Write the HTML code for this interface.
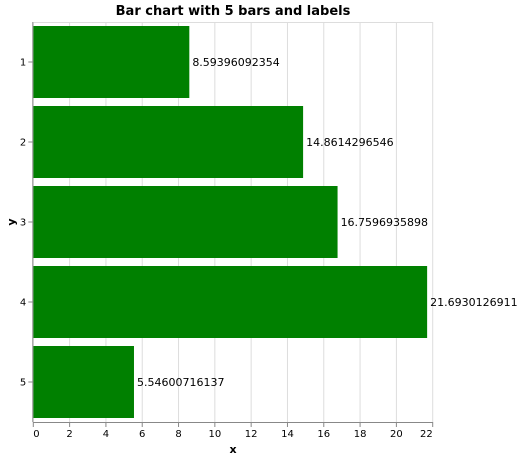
<!DOCTYPE html>
<html><head><meta charset="utf-8"><style>
body{margin:0;background:#fff}
svg{display:block;font-family:"DejaVu Sans","Liberation Sans",sans-serif}
</style></head><body>
<svg id="c" width="524" height="459">
<text x="233" y="15" text-anchor="middle" font-size="13" font-weight="bold" fill="#000">Bar chart with 5 bars and labels</text>
<g id="grid"></g><g id="bars"></g><g id="axes"></g>
<text x="233" y="453" text-anchor="middle" font-size="11" font-weight="bold">x</text>
<text transform="translate(15,222) rotate(-90)" text-anchor="middle" font-size="11" font-weight="bold">y</text>
</svg>
<script>
const categories=["1","2","3","4","5"];
const values=[8.59396092354,14.8614296546,16.7596935898,21.6930126911,5.54600716137];
const labels=["8.59396092354","14.8614296546","16.7596935898","21.6930126911","5.54600716137"];
const xTicks=[0,2,4,6,8,10,12,14,16,18,20,22];
const NS="http://www.w3.org/2000/svg";
const L=33.3,R=432.7,T=22,B=422,xMax=22;
const xs=v=>L+v/xMax*(R-L);
const band=(B-T)/categories.length;
const ys=i=>T+i*band;
function mk(t,a,p){const e=document.createElementNS(NS,t);for(const k in a)e.setAttribute(k,a[k]);p.appendChild(e);return e;}
const g=document.getElementById('grid'),b=document.getElementById('bars'),ax=document.getElementById('axes');
mk('line',{x1:L,x2:R,y1:T+0.5,y2:T+0.5,stroke:'#ddd'},g);
xTicks.forEach(t=>{
 const l=mk('line',{x1:xs(t),x2:xs(t),y1:T,y2:B,stroke:'#ddd'},g);
 
 
 mk('line',{x1:xs(t),x2:xs(t),y1:B,y2:B+5,stroke:'#888'},ax);
 const tx=mk('text',{x:xs(t),y:B+15,'text-anchor':t===0?'start':(t===xMax?'end':'middle'),'font-size':10,fill:'#000'},ax);
 tx.textContent=t;
 
 
});
mk('line',{x1:L,x2:R,y1:B+0.5,y2:B+0.5,stroke:'#888'},ax);
mk('line',{x1:L-0.5,x2:L-0.5,y1:T,y2:B,stroke:'#888'},ax);
categories.forEach((c,i)=>{
 const r=mk('rect',{x:L,y:ys(i)+4,width:xs(values[i])-L,height:band-8,fill:'#008000'},b);
 
 
 const lt=mk('text',{x:xs(values[i])+3,y:ys(i)+band/2+4,'font-size':11,fill:'#000'},b);
 lt.textContent=labels[i];
 
 
 mk('line',{x1:L-5,x2:L,y1:ys(i)+band/2,y2:ys(i)+band/2,stroke:'#888'},ax);
 const yt=mk('text',{x:L-7,y:ys(i)+band/2+3.5,'text-anchor':'end','font-size':10,fill:'#000'},ax);
 yt.textContent=c;
 
 
});
</script>
</body></html>
